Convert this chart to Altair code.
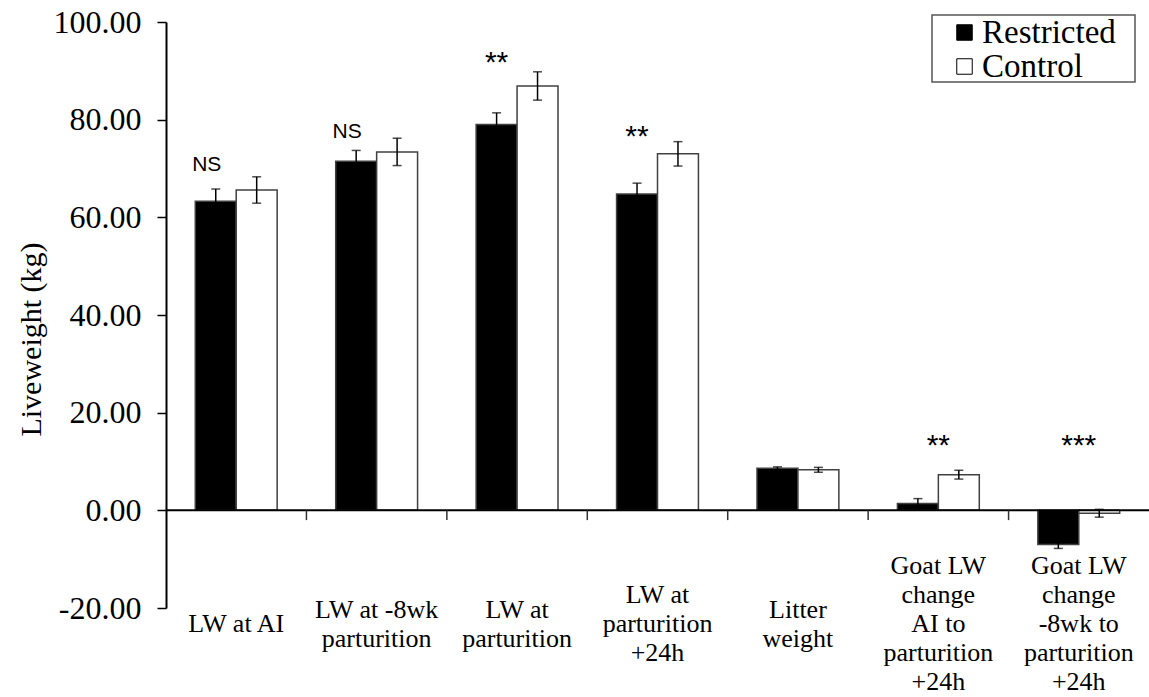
import altair as alt
import pandas as pd

# ---- data ----
categories = [
    "LW at AI",
    "LW at -8wk|parturition",
    "LW at|parturition",
    "LW at|parturition|+24h",
    "Litter|weight",
    "Goat LW|change|AI to|parturition|+24h",
    "Goat LW|change|-8wk to|parturition|+24h",
]
series = ["Restricted", "Control"]
restricted_mean = [63.3, 71.5, 79.0, 64.8, 8.6, 1.4, -7.0]
restricted_se = [2.5, 2.2, 2.4, 2.2, 0.3, 1.0, 0.8]
control_mean = [65.6, 73.4, 86.9, 73.0, 8.3, 7.3, -0.6]
control_se = [2.7, 2.8, 2.9, 2.5, 0.5, 0.9, 0.8]

# significance marks
ns_cats = [categories[0], categories[1]]
ns_text = ["NS", "NS"]
ns_y = [69.4, 76.3]
star_bar_cats = [categories[2], categories[3]]
star_bar_text = ["**", "**"]
star_bar_y = [89.8, 74.7]
star_mid_cats = [categories[5], categories[6]]
star_mid_text = ["**", "***"]
star_mid_y = [11.4, 11.4]

y_ticks = [-20, 0, 20, 40, 60, 80, 100]
boundaries = [1, 2, 3, 4, 5, 6]

LINE_H = 29  # category label line height (px)

# ---- tables ----
rows = []
for c, m, s in zip(categories, restricted_mean, restricted_se):
    rows.append({"cat": c, "series": "Restricted", "val": m, "lo": m - s, "hi": m + s})
for c, m, s in zip(categories, control_mean, control_se):
    rows.append({"cat": c, "series": "Control", "val": m, "lo": m - s, "hi": m + s})
df = pd.DataFrame(rows)

df_ns = pd.DataFrame({"cat": ns_cats, "txt": ns_text, "val": ns_y, "series": "Restricted"})
df_sb = pd.DataFrame({"cat": star_bar_cats, "txt": star_bar_text, "val": star_bar_y,
                      "series": "Restricted"})
df_sm = pd.DataFrame({"cat": star_mid_cats, "txt": star_mid_text, "val": star_mid_y})
# vertically centre each multi-line label block
df_lab = pd.DataFrame({
    "cat": categories,
    "shift": [-(c.count("|")) * LINE_H / 2 for c in categories],
})
df_one = pd.DataFrame({"z": [0]})
df_bound = pd.DataFrame({"b": boundaries})

SERIF = "Liberation Serif"
SANS = "Liberation Sans"

x_scale = alt.Scale(domain=categories, paddingInner=0.417, paddingOuter=0.2085)
xo_scale = alt.Scale(domain=series, paddingInner=0, paddingOuter=0)
y_scale = alt.Scale(domain=[-20, 100], nice=False)

y_axis = alt.Axis(
    values=y_ticks, labelExpr="replace(format(datum.value, '.2f'), '\u2212', '-')",
    grid=False, tickSize=9, tickColor="black", tickWidth=1.5,
    domainColor="black", domainWidth=2,
    labelFont=SERIF, labelFontSize=32, labelPadding=16, labelColor="black",
    title="Liveweight (kg)", titleFont=SERIF, titleFontSize=30, titleFontWeight="normal",
    titleColor="black", titleAngle=270, titleAlign="center", titleBaseline="middle",
    titleX=-135, titleY=317,
)

x_plain = alt.X("cat:N", scale=x_scale, axis=None)
xo = alt.XOffset("series:N", scale=xo_scale)

# frame of the legend (drawn behind the legend entries)
legend_frame = alt.Chart(df_one).mark_rect(
    fill="white", stroke="#555555", strokeWidth=1.5
).encode(x=alt.value(766), x2=alt.value(969), y=alt.value(-7), y2=alt.value(60))

bars = alt.Chart(df).mark_bar(stroke="#404040", strokeWidth=1.5).encode(
    x=x_plain,
    xOffset=xo,
    y=alt.Y("val:Q", scale=y_scale, axis=y_axis),
    y2=alt.datum(0),
    fill=alt.Fill(
        "series:N",
        scale=alt.Scale(domain=series, range=["black", "white"]),
        legend=alt.Legend(
            title=None, orient="none", legendX=766, legendY=-7, direction="vertical",
            symbolType="square", symbolSize=240, symbolStrokeColor="black",
            symbolStrokeWidth=1, symbolOffset=15,
            labelFont=SERIF, labelFontSize=33, labelColor="black",
            labelOffset=1, padding=1, rowPadding=0,
        ),
    ),
)

zero_line = alt.Chart(df_one).mark_rule(color="black", strokeWidth=2).encode(
    y=alt.datum(0)
)

err_rule = alt.Chart(df).mark_rule(color="black", strokeWidth=1.5).encode(
    x=x_plain, xOffset=xo, y="lo:Q", y2="hi:Q"
)
cap_lo = alt.Chart(df).mark_tick(color="black", thickness=1.5, size=9).encode(
    x=x_plain, xOffset=xo, y="lo:Q"
)
cap_hi = alt.Chart(df).mark_tick(color="black", thickness=1.5, size=9).encode(
    x=x_plain, xOffset=xo, y="hi:Q"
)

sig_ns = alt.Chart(df_ns).mark_text(
    font=SANS, fontSize=21, baseline="alphabetic", color="black", dx=-9
).encode(x=x_plain, xOffset=xo, y="val:Q", text="txt:N")

sig_sb = alt.Chart(df_sb).mark_text(
    font=SANS, fontSize=30, baseline="alphabetic", color="black"
).encode(x=x_plain, xOffset=xo, y="val:Q", text="txt:N")

sig_sm = alt.Chart(df_sm).mark_text(
    font=SANS, fontSize=30, baseline="alphabetic", color="black"
).encode(x=x_plain, y="val:Q", text="txt:N")

cat_labels = alt.Chart(df_lab).mark_text(
    font=SERIF, fontSize=26, lineHeight=LINE_H, lineBreak="|", baseline="middle",
    align="center", color="black", dy=16,
).encode(
    x=x_plain,
    y=alt.datum(-20),
    yOffset=alt.YOffset("shift:Q", scale=None),
    text="cat:N",
)

main = alt.layer(legend_frame, bars, zero_line, err_rule, cap_lo, cap_hi,
                 sig_ns, sig_sb, sig_sm, cat_labels)

bound_ticks = alt.Chart(df_bound).mark_rule(color="#333333", strokeWidth=1.5).encode(
    x=alt.X("b:Q", scale=alt.Scale(domain=[0, 7], nice=False), axis=None),
    y=alt.datum(0),
    y2=alt.datum(-2),
)

chart = (
    alt.layer(main, bound_ticks)
    .resolve_scale(x="independent")
    .properties(
        width=983, height=586,
        autosize=alt.AutoSizeParams(type="none"),
        padding={"left": 166, "top": 22, "right": 0, "bottom": 89},
        background="white",
    )
    .configure_view(stroke=None)
)

chart.save("out.html", embed_options={"renderer": "svg", "actions": False})
